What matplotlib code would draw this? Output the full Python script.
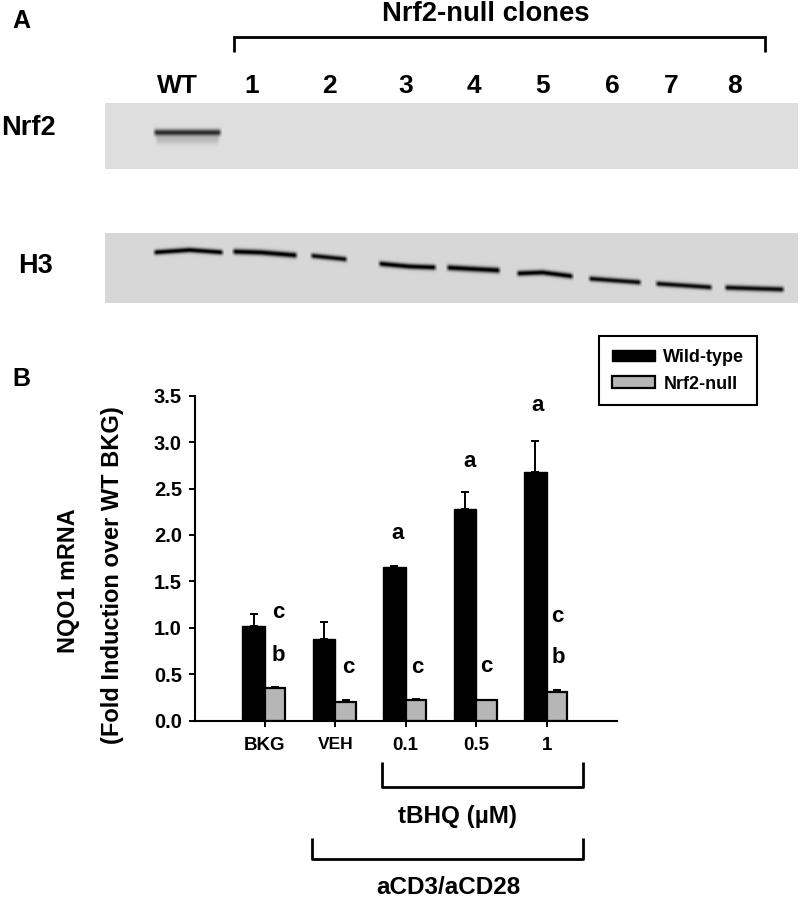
import matplotlib
matplotlib.use("Agg")
import matplotlib.pyplot as plt
import numpy as np

plt.rcParams['font.family'] = ['Liberation Sans', 'DejaVu Sans']
plt.rcParams['font.weight'] = 'bold'

W, H = 800, 898

# Panel B data
groups = ["BKG", "VEH", "0.1", "0.5", "1"]
wild_type = [1.02, 0.88, 1.65, 2.28, 2.68]
wild_type_err = [0.13, 0.18, 0.02, 0.18, 0.33]
nrf2_null = [0.35, 0.20, 0.22, 0.22, 0.31]
nrf2_null_err = [0.015, 0.02, 0.015, 0.0, 0.02]
y_ticks = [0.0, 0.5, 1.0, 1.5, 2.0, 2.5, 3.0, 3.5]

# Significance letters
letters = ["c", "b", "c", "a", "c", "a", "c", "a", "c", "b"]
letter_x = [0.19, 0.19, 1.19, 1.885, 2.16, 2.90, 3.15, 3.87, 4.15, 4.17]
letter_y = [1.17, 0.70, 0.57, 2.02, 0.57, 2.79, 0.58, 3.39, 1.12, 0.68]

# Panel A lanes
lanes = ["WT", "1", "2", "3", "4", "5", "6", "7", "8"]
lane_x = [177, 252, 329, 406, 474, 543, 612, 671, 734]

# Blot bands as (x, y) pixels
nrf2_bands = [([152, 222], [132, 132], 3.3, 0.68),
              ([154, 220], [139, 139], 4.5, 0.14)]
h3_bands = [([152, 189, 224], [252, 249.5, 252], 2.6, 0.85),
            ([231, 261, 298], [251, 252, 255], 2.8, 0.85),
            ([309, 348], [255, 259], 2.6, 0.8),
            ([377, 409, 437], [263, 266, 267], 2.7, 0.85),
            ([445, 501], [267, 270], 2.9, 0.85),
            ([515, 542, 574], [273, 272, 276], 2.7, 0.85),
            ([587, 642], [278, 282], 2.6, 0.8),
            ([654, 713], [283, 287], 2.6, 0.8),
            ([723, 785], [287, 289], 2.7, 0.8)]


def blot_image(x0, x1, y0, y1, background, bands):
    """Builds a grey blot strip from a flat background and blurred bands."""
    xs = np.arange(x0, x1)
    ys = np.arange(y0, y1)
    img = np.full((len(ys), len(xs)), background, dtype=float)
    for bx, by, sigma, amp in bands:
        centre = np.interp(xs, bx, by)
        taper = np.clip((xs - bx[0]) / 4, 0, 1) * np.clip((bx[-1] - xs) / 4, 0, 1)
        for i in range(len(xs)):
            img[:, i] -= amp * taper[i] * np.exp(-((ys - centre[i]) / sigma) ** 2)
    return np.clip(img, 0, 1)


fig = plt.figure(figsize=(W / 100, H / 100), dpi=100)

# Overlay in pixel coordinates for the blots and the labels around them
overlay = fig.add_axes([0, 0, 1, 1], zorder=0)
overlay.set_xlim(0, W)
overlay.set_ylim(H, 0)
overlay.axis("off")

overlay.imshow(blot_image(105, 798, 103, 169, 0.87, nrf2_bands), cmap="gray", vmin=0, vmax=1,
               extent=(105, 798, 169, 103), aspect="auto", interpolation="bilinear")
overlay.imshow(blot_image(105, 798, 233, 303, 0.84, h3_bands), cmap="gray", vmin=0, vmax=1,
               extent=(105, 798, 303, 233), aspect="auto", interpolation="bilinear")
overlay.set_xlim(0, W)
overlay.set_ylim(H, 0)


def bracket(x0, x1, y_top, y_bottom, up=False):
    """Draws a three sided bracket, open downwards or upwards."""
    if up:
        overlay.plot([x0, x0, x1, x1], [y_bottom, y_top, y_top, y_bottom], color="black", lw=2.0,
                     solid_joinstyle="miter", solid_capstyle="butt")
    else:
        overlay.plot([x0, x0, x1, x1], [y_top, y_bottom, y_bottom, y_top], color="black", lw=2.0,
                     solid_joinstyle="round", solid_capstyle="butt")


bracket(234, 765, 37, 52, up=True)
bracket(381.7, 583.3, 761.7, 786.7)
bracket(312, 583.3, 838, 859)

overlay.text(21.5, 21, "A", fontsize=18, ha="center", va="center")
overlay.text(21, 379, "B", fontsize=18, ha="center", va="center")
overlay.text(486, 14, "Nrf2-null clones", fontsize=19.7, ha="center", va="center")
for name, x in zip(lanes, lane_x):
    overlay.text(x, 86, name, fontsize=19, ha="center", va="center")
overlay.text(28, 128, "Nrf2", fontsize=19.5, ha="center", va="center")
overlay.text(36, 266, "H3", fontsize=19.5, ha="center", va="center")

overlay.text(69, 581, "NQO1 mRNA", fontsize=16.8, rotation=90, ha="center", va="center")
overlay.text(113, 575, "(Fold Induction over WT BKG)", fontsize=17, rotation=90, ha="center", va="center")
overlay.text(458, 817, "tBHQ (µM)", fontsize=17.5, ha="center", va="center")
overlay.text(448, 887, "aCD3/aCD28", fontsize=17.5, ha="center", va="center")

# Panel B bar chart
ax = fig.add_axes([194.5 / W, 1 - 720.7 / H, (617 - 194.5) / W, (720.7 - 395.7) / H], zorder=1)
ax.patch.set_visible(False)
pos = np.arange(len(groups))

ax.bar(pos, wild_type, width=-0.32, align="edge", color="black", edgecolor="black", linewidth=1.0,
       label="Wild-type")
ax.bar(pos, nrf2_null, width=0.29, align="edge", color="#b6b6b6", edgecolor="black", linewidth=1.6,
       label="Nrf2-null")
ax.errorbar(pos - 0.16, wild_type, yerr=[np.zeros(5), wild_type_err], fmt="none", ecolor="black",
            elinewidth=1.4, capsize=3.2, capthick=1.4)
ax.errorbar(pos + 0.145, nrf2_null, yerr=[np.zeros(5), nrf2_null_err], fmt="none", ecolor="black",
            elinewidth=1.4, capsize=3.2, capthick=1.4)

for s, x, y in zip(letters, letter_x, letter_y):
    ax.text(x, y, s, fontsize=16, ha="center", va="center")

ax.set_xlim(-1, 5)
ax.set_ylim(0, 3.5)
ax.set_yticks(y_ticks)
ax.set_yticklabels([f"{v:.1f}" for v in y_ticks], fontsize=14.5)
ax.set_xticks(pos)
ax.set_xticklabels(groups, fontsize=13.5)
ax.get_xticklabels()[1].set_fontsize(12.5)
ax.tick_params(axis="y", length=4, width=1.4, pad=5)
ax.tick_params(axis="x", length=4, width=1.4, pad=8)
ax.spines["top"].set_visible(False)
ax.spines["right"].set_visible(False)
ax.spines["left"].set_linewidth(1.5)
ax.spines["bottom"].set_linewidth(1.5)

legend = ax.legend(loc="upper left", bbox_to_anchor=(599.3 / W, 1 - 336 / H), bbox_transform=fig.transFigure,
                   borderaxespad=0, fontsize=13, handlelength=2.4, handleheight=0.6, handletextpad=0.45,
                   labelspacing=0.55, borderpad=0.7, fancybox=False, framealpha=1, edgecolor="black")
legend.get_frame().set_linewidth(1.5)

fig.savefig("out.png", dpi=100)
